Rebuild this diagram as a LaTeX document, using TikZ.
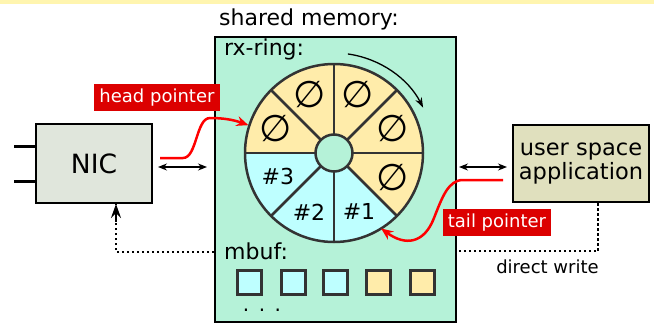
\documentclass[tikz,border=0pt]{standalone}
\usepackage{fontspec}
\setmainfont{DejaVu Sans}
\usetikzlibrary{arrows.meta,calc}
\definecolor{mint}{RGB}{181,242,216}
\definecolor{ryellow}{RGB}{255,236,170}
\definecolor{rblue}{RGB}{190,255,255}
\definecolor{nicfill}{RGB}{224,230,220}
\definecolor{appfill}{RGB}{224,224,190}
\definecolor{ptred}{RGB}{220,0,0}
\definecolor{topband}{RGB}{255,245,175}
\definecolor{ringgray}{RGB}{51,51,51}
\newcommand{\fsz}[1]{\fontsize{#1}{#1}\selectfont}
\tikzset{
  ringline/.style={draw=ringgray, line width=2.5pt},
  blackbox/.style={draw=black, line width=2pt, inner sep=0pt},
  redlabel/.style={fill=ptred, text=white, inner sep=0pt, font=\fsz{18}},
  redarrow/.style={draw=red, line width=2.5pt, -{Stealth[length=12pt,width=10pt,inset=4pt]}},
  dblarrow/.style={draw=black, line width=1.2pt, {Stealth[length=9pt,width=7pt]}-{Stealth[length=9pt,width=7pt]}},
  dotline/.style={draw=black, line width=2pt, dash pattern=on 2.5pt off 2.5pt},
  slot/.style={font=\fsz{22}},
  emptyslot/.style={font=\fsz{37}, inner sep=0pt},
  bufbox/.style={draw=ringgray, line width=3pt, minimum size=24pt, inner sep=0pt},
  lbl/.style={font=\fsz{22}, inner sep=0pt},
}
\begin{document}
\begin{tikzpicture}[x=1pt,y=-1pt]
\useasboundingbox (0,0) rectangle (654,324);
\fill[topband] (0,0) rectangle (654,4);

% shared memory
\node[lbl, anchor=base] (title) at (309,25) {shared memory:};
\node[blackbox, fill=mint, minimum width=241pt, minimum height=285pt, anchor=north west] (mem) at (214,36) {};
\node[lbl, anchor=base west] (rx) at (224,55) {rx-ring:};

% ring
\coordinate (c) at (334,153);
\foreach \a/\col in {0/ryellow,45/ryellow,90/ryellow,135/ryellow,180/rblue,225/rblue,270/rblue,315/ryellow}
  \fill[\col] (c) -- ($(c)+(\a:89pt)$) arc[start angle=\a, delta angle=45, radius=89pt] -- cycle;
\foreach \a in {0,45,...,315}
  \draw[ringline] (c) -- ($(c)+(\a:89pt)$);
\draw[ringline] (c) circle[radius=89pt];
\node[circle, ringline, fill=mint, minimum size=37pt, inner sep=0pt] (hub) at (c) {};
\foreach \a/\n in {22.5/s1,67.5/s2,112.5/s3,157.5/s4,337.5/s5}
  \node[emptyslot] (\n) at ($(c)+(\a:63pt)$) {∅};
\node[slot] (b3) at ($(c)+(203:61pt)$) {\#3};
\node[slot] (b2) at ($(c)+(247:64pt)$) {\#2};
\node[slot] (b1) at ($(c)+(293:64pt)$) {\#1};
\draw[line width=1.3pt, -{Stealth[length=10pt,width=7pt]}] ($(c)+(82:100pt)$) arc[start angle=82, end angle=27, radius=100pt];

% NIC
\node[blackbox, fill=nicfill, minimum width=116pt, minimum height=79pt, font=\fsz{26.5}] (nic) at (94,163.5) {NIC};
\coordinate (p1) at (14,146);
\coordinate (p2) at (14,181);
\draw[line width=3pt] (p1) -- (nic.west |- p1);
\draw[line width=3pt] (p2) -- (nic.west |- p2);
\coordinate (da1) at (158,167);
\coordinate (da2) at (207,167);
\draw[dblarrow] (da1) -- (da2);

% head pointer
\coordinate (hpStart) at (160,158);
\coordinate (hpTip) at ($(c)+(162:90pt)$);
\draw[redarrow] (hpStart) -- (183,158) .. controls (197,158) and (196,118) .. (210,118) .. controls (224,118) and (234,120) .. (hpTip);
\node[redlabel, minimum width=126pt, minimum height=27pt] (hp) at (157,97.5) {head pointer};

% user space application
\node[blackbox, fill=appfill, minimum width=136pt, minimum height=77pt, font=\fsz{22.5}, align=center] (app) at (581,163.5) {user space\\[1pt]application};
\coordinate (db1) at (459,167);
\coordinate (db2) at (507,167);
\draw[dblarrow] (db1) -- (db2);

% tail pointer
\coordinate (tpStart) at (503,180);
\coordinate (tpTip) at ($(c)+(302:89pt)$);
\draw[redarrow] (tpStart) -- (463,180) .. controls (448,180) and (442,198) .. (434,218) .. controls (424,244) and (405,246) .. (tpTip);
\node[redlabel, minimum width=108pt, minimum height=27pt] (tp) at (497,222.5) {tail pointer};

% dotted connections
\coordinate (dw) at (598,251);
\draw[dotline] (598,0 |- app.south) -- (dw) -- (mem.east |- dw);
\node[font=\fsz{18}, inner sep=0pt, anchor=base] (dwl) at (547.5,273) {direct write};
\coordinate (dn) at (116,252);
\draw[dotline] (mem.west |- dn) -- (dn) -- (116,0 |- nic.south);
\draw[line width=2pt, -{Stealth[length=14pt,width=10pt,inset=5pt]}] (116,222) -- (116,0 |- nic.south);

% mbuf
\node[lbl, anchor=base west] (mbuf) at (224,259) {mbuf:};
\foreach \x/\col/\n in {249.5/rblue/m1,293/rblue/m2,335.5/rblue/m3,378.5/ryellow/m4,422/ryellow/m5}
  \node[bufbox, fill=\col] (\n) at (\x,282.5) {};
\node[font=\fsz{20}, inner sep=0pt, anchor=base] (dots) at (262,311) {.\hspace{9.5pt}.\hspace{9.5pt}.};
\end{tikzpicture}
\end{document}
